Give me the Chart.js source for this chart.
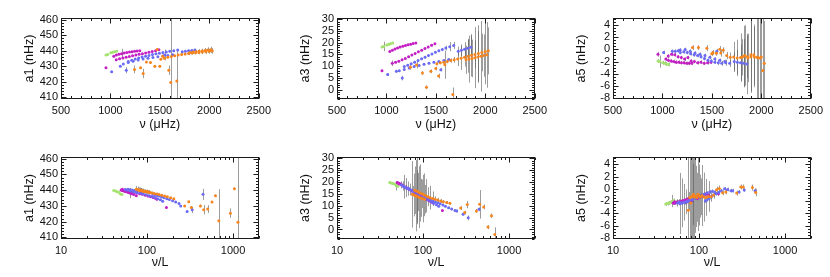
<!DOCTYPE html>
<html>
<head>
<meta charset="utf-8">
<script src="https://cdn.jsdelivr.net/npm/chart.js@4.4.0/dist/chart.umd.min.js"></script>
<style>
  body { margin: 0; background: #fff; width: 830px; height: 277px; position: relative; overflow: hidden; }
  canvas { position: absolute; }
</style>
</head>
<body>
<canvas id="p1"></canvas>
<canvas id="p2"></canvas>
<canvas id="p3"></canvas>
<canvas id="p4"></canvas>
<canvas id="p5"></canvas>
<canvas id="p6"></canvas>
<script>
// tick labels
const xTicksNu = [500, 1000, 1500, 2000, 2500];
const xTicksL = [10, 100, 1000];
const yTicksA1 = [410, 420, 430, 440, 450, 460];
const yTicksA3 = [0, 5, 10, 15, 20, 25, 30];
const yTicksA5 = [-8, -6, -4, -2, 0, 2, 4];

// green modes
const greenNu  = [955, 972, 1003, 1022, 1041, 1062];
const greenNuL = [51, 49, 47, 45, 43, 41];
const greenA1  = [437.2, 437.6, 438.7, 439.0, 439.4, 439.7];
const greenA3  = [18.2, 18.4, 19.0, 19.3, 19.5, 19.8];
const greenA5  = [-1.9, -2.0, -2.2, -2.3, -2.4, -2.5];
const greenE1  = [0.3, 0.3, 0.3, 0.3, 0.3, 0.3];
const greenE3  = [0.5, 2.0, 0.5, 0.5, 0.5, 0.5];
const greenE5  = [0.3, 1.0, 0.3, 0.3, 0.3, 0.3];

// magenta modes
const magNu  = [955, 1034, 1060, 1086, 1112, 1138, 1165, 1192, 1218, 1244, 1270, 1297,
                1059, 1092, 1125, 1158, 1191, 1224, 1257, 1290, 1323, 1356, 1389, 1422, 1456, 1490];
const magNuL = [168, 75, 70, 66, 63, 60.5, 58, 56, 54, 53, 51.3, 50,
                130, 125, 118, 110, 103, 95.5, 88, 82, 75.7, 70, 64.7, 59.8, 55.4, 51.8];
const magA1  = [429.0, 436.5, 437.2, 437.7, 438.1, 438.5, 438.9, 439.1, 439.4, 439.6, 439.8, 440.0,
                434.2, 434.8, 435.3, 435.8, 436.3, 436.8, 437.3, 437.7, 438.1, 438.6, 439.0, 439.5, 440.0, 440.6];
const magA3  = [8.0, 16.2, 16.8, 17.3, 17.7, 18.1, 18.5, 18.8, 19.1, 19.3, 19.6, 19.8,
                11.2, 11.6, 12.1, 12.7, 13.3, 14.0, 14.7, 15.4, 16.1, 16.8, 17.5, 18.2, 18.9, 19.5];
const magA5  = [-0.8, -1.6, -1.8, -1.9, -2.0, -2.1, -2.1, -2.2, -2.2, -2.3, -2.3, -2.3,
                -1.1, -0.8, -0.9, -1.2, -1.35, -1.6, -1.35, -1.9, -2.0, -2.2, -2.1, -2.3, -2.2, -2.1];
const magE1  = [0.4, 0.3, 0.3, 0.3, 3.2, 0.3, 0.3, 0.3, 0.3, 0.3, 0.3, 0.3,
                0.3, 0.3, 0.3, 0.3, 0.3, 0.3, 0.3, 0.3, 0.3, 0.3, 0.3, 0.3, 0.3, 0.3];
const magE3  = [0.5, 0.4, 0.4, 0.4, 0.4, 0.4, 0.4, 0.4, 0.4, 0.4, 0.4, 0.4,
                1.2, 0.4, 0.4, 0.4, 0.4, 0.4, 0.4, 0.4, 0.4, 0.4, 0.4, 0.4, 0.4, 0.4];
const magE5  = [0.4, 0.3, 0.3, 0.3, 0.3, 0.3, 0.3, 0.3, 0.3, 0.3, 0.3, 0.3,
                0.3, 0.3, 0.3, 0.3, 0.3, 0.3, 0.3, 0.3, 0.3, 0.3, 0.3, 0.3, 0.3, 0.3];

// blue modes
const blueNu  = [1012, 1100, 1160, 1550,
                 1130, 1180, 1230, 1280, 1330, 1380, 1430, 1480, 1530, 1580, 1630,
                 1180, 1215, 1250, 1285, 1320, 1355, 1390, 1425, 1460, 1495, 1530, 1565, 1600, 1640, 1680,
                 1726, 1758, 1790, 1822, 1854];
const blueNuL = [292, 246, 335, 447,
                 235, 215, 198, 182, 170, 158, 148, 139, 131, 124, 118,
                 152, 143, 133, 123, 114, 106, 98, 90, 84, 77, 72, 68, 63, 59, 56,
                 76, 71, 67, 63, 60];
const blueA1  = [426.5, 430.0, 427.5, 437.3,
                 431.5, 432.5, 433.3, 434.0, 434.6, 435.2, 435.7, 436.2, 436.6, 437.0, 437.4,
                 433.0, 433.9, 434.6, 435.3, 435.9, 436.5, 437.0, 437.5, 438.0, 438.4, 438.8, 439.2, 439.6, 440.0, 440.4,
                 439.4, 439.7, 440.0, 440.2, 440.5];
const blueA3  = [6.4, 7.8, 4.9, 8.5,
                 8.0, 8.6, 9.2, 9.8, 10.3, 10.8, 11.2, 11.6, 12.0, 12.4, 12.8,
                 9.8, 10.4, 11.0, 11.7, 12.4, 13.1, 13.8, 14.5, 15.2, 15.9, 16.5, 17.1, 17.7, 18.3, 18.8,
                 16.3, 16.8, 17.2, 17.6, 18.0];
const blueA5  = [-0.5, -0.3, -0.2, -0.3,
                 -0.3, -0.1, 0.0, -0.3, -0.6, -0.8, -1.0, -1.3, -1.6, -1.8, -2.0,
                 -0.5, -0.4, -0.5, -0.7, -0.9, -1.0, -1.2, -1.5, -1.8, -1.9, -2.1, -2.2, -2.3, -2.2, -2.3,
                 -2.0, -2.1, -2.2, -2.3, -2.4];
const blueE1  = [0.5, 0.5, 2.0, 3.5,
                 0.4, 0.4, 0.4, 0.4, 0.4, 0.4, 0.4, 0.4, 0.4, 0.4, 0.4,
                 0.4, 0.4, 0.4, 0.4, 0.4, 0.4, 0.4, 0.4, 0.4, 0.4, 0.4, 0.4, 0.4, 0.5, 0.5,
                 0.5, 0.6, 0.6, 0.7, 0.8];
const blueE3  = [0.5, 0.6, 1.0, 0.8,
                 0.4, 0.4, 0.4, 0.4, 0.4, 0.4, 0.4, 0.4, 0.4, 0.4, 0.4,
                 0.4, 0.4, 0.4, 0.4, 0.4, 0.4, 0.4, 0.4, 0.4, 0.4, 0.5, 0.6, 1.0, 2.0, 1.5,
                 2.0, 2.5, 3.0, 4.0, 5.0];
const blueE5  = [0.3, 0.3, 0.3, 0.4,
                 0.3, 0.3, 0.3, 0.3, 0.3, 0.3, 0.3, 0.3, 0.3, 0.3, 0.3,
                 0.3, 0.3, 0.3, 0.3, 0.3, 0.3, 0.3, 0.3, 0.3, 0.3, 0.3, 0.4, 0.4, 0.5, 0.6,
                 1.5, 2.0, 3.0, 4.0, 5.0];

// orange modes
const orangeNu  = [1243, 1304, 1331, 1364, 1405, 1449, 1472, 1499, 1528, 1590, 1610, 1671,
                   1510, 1545, 1580, 1615, 1650, 1685, 1720, 1755, 1790, 1825, 1860, 1895, 1930, 1965, 2000, 2030,
                   1805, 1835, 1865, 1895, 1925, 1955, 1985, 2015];
const orangeNuL = [507, 327, 931, 305, 569, 417, 1036, 274, 624, 455, 1138, 682,
                   205, 188, 172, 160, 148, 138, 129, 121, 114, 108, 102, 97, 92, 88, 84, 80,
                   104, 99, 94, 90, 86, 82, 78, 75];
const orangeA1  = [428.0, 429.0, 425.4, 432.7, 432.5, 430.0, 440.8, 430.0, 436.5, 427.5, 419.6, 420.6,
                   434.5, 435.2, 435.8, 436.3, 436.8, 437.2, 437.6, 437.9, 438.2, 438.5, 438.7, 438.9, 439.1, 439.4, 439.7, 439.9,
                   438.9, 439.1, 439.3, 439.6, 439.8, 440.1, 440.4, 440.6];
const orangeA3  = [9.5, 10.5, null, 7.1, 1.0, 7.8, null, 9.0, 5.8, 10.6, null, -2.1,
                   11.0, 11.4, 11.7, 12.0, 12.4, 12.7, 13.0, 13.4, 13.8, 14.2, 14.6, 15.0, 15.4, 15.8, 16.2, 16.5,
                   12.7, 13.0, 13.3, 13.6, 13.9, 14.2, 14.5, 14.8];
const orangeA5  = [null, 0.3, null, 0.3, null, 0.2, null, -0.7, null, -0.6, null, null,
                   -0.5, -0.65, 0.05, -0.15, -1.0, -1.3, -1.25, -1.4, -1.35, -1.1, -1.2, -0.9, -1.25, -1.35, -1.25, -2.3,
                   -1.3, -1.0, -1.4, -1.2, -0.9, -1.3, -1.4, -3.5];
const orangeE1  = [2.5, 0.6, 3.0, 0.6, 0.6, 0.8, 0.8, 0.6, 0.8, 3.0, 45, 20,
                   0.4, 0.4, 0.4, 0.5, 0.5, 0.6, 0.7, 0.8, 0.9, 1.0, 1.1, 1.2, 1.3, 1.5, 1.6, 1.8,
                   1.0, 1.2, 1.2, 1.4, 1.5, 1.6, 1.8, 2.0];
const orangeE3  = [1.0, 1.5, 0, 0.8, 0.8, 0.8, 0, 0.8, 1.0, 6.0, 0, 3.0,
                   0.6, 0.6, 0.7, 0.8, 0.9, 1.2, 3, 5, 4, 7, 9, 6, 12, 8, 14, 10,
                   6, 10, 8, 13, 11, 15, 9, 14];
const orangeE5  = [0, 0.4, 0, 0.4, 0, 0.5, 0, 0.4, 0, 0.6, 0, 0,
                   0.4, 0.4, 0.5, 0.5, 0.6, 0.8, 2.5, 3, 4, 5, 3.5, 6, 5, 8, 10, 7,
                   3, 5, 4, 6, 5, 7, 9, 11];

// first entry is drawn on top
const groups = [
  { color: '#f7851e', nu: orangeNu, nuL: orangeNuL, a1: orangeA1, a3: orangeA3, a5: orangeA5, e1: orangeE1, e3: orangeE3, e5: orangeE5 },
  { color: '#6b6bf5', nu: blueNu, nuL: blueNuL, a1: blueA1, a3: blueA3, a5: blueA5, e1: blueE1, e3: blueE3, e5: blueE5 },
  { color: '#c41fc4', nu: magNu, nuL: magNuL, a1: magA1, a3: magA3, a5: magA5, e1: magE1, e3: magE3, e5: magE5 },
  { color: '#a5e36e', nu: greenNu, nuL: greenNuL, a1: greenA1, a3: greenA3, a5: greenA5, e1: greenE1, e3: greenE3, e5: greenE5 }
];

const yAxes = {
  a1: { min: 409, max: 461, ticks: yTicksA1, minor: 5, title: 'a1 (nHz)', err: 'e1' },
  a3: { min: -4, max: 30.5, ticks: yTicksA3, minor: 5, title: 'a3 (nHz)', err: 'e3' },
  a5: { min: -8.2, max: 5.2, ticks: yTicksA5, minor: 4, title: 'a5 (nHz)', err: 'e5' }
};

const panels = [
  { id: 'p1', col: 0, row: 0, x: 'nu', y: 'a1' },
  { id: 'p2', col: 1, row: 0, x: 'nu', y: 'a3' },
  { id: 'p3', col: 2, row: 0, x: 'nu', y: 'a5' },
  { id: 'p4', col: 0, row: 1, x: 'nuL', y: 'a1' },
  { id: 'p5', col: 1, row: 1, x: 'nuL', y: 'a3' },
  { id: 'p6', col: 2, row: 1, x: 'nuL', y: 'a5' }
];

const tickFont = { family: 'Liberation Sans, Arial, sans-serif', size: 11 };
const titleFont = { family: 'Liberation Sans, Arial, sans-serif', size: 12.5 };

function tickList(scale, div) {
  const out = [];
  if (scale.type === 'logarithmic') {
    for (let d = Math.pow(10, Math.floor(Math.log10(scale.min))); d <= scale.max; d *= 10) {
      for (let k = 1; k < 10; k++) {
        const v = k * d;
        if (v >= scale.min && v <= scale.max) out.push([v, k === 1]);
      }
    }
  } else {
    const vals = scale.ticks.map(t => t.value);
    const step = (vals[1] - vals[0]) / div;
    const start = Math.ceil((scale.min - 1e-9) / step) * step;
    for (let v = start; v <= scale.max + 1e-9; v += step) {
      out.push([v, vals.some(t => Math.abs(t - v) < step / 10)]);
    }
  }
  return out;
}

const framePlugin = {
  id: 'frame',
  beforeDatasetsDraw(chart) {
    const { ctx, chartArea: a, scales: { x, y } } = chart;
    ctx.save();
    ctx.beginPath();
    ctx.rect(a.left, a.top, a.right - a.left, a.bottom - a.top);
    ctx.clip();
    ctx.strokeStyle = 'rgba(90,90,90,0.6)';
    ctx.lineWidth = 1;
    chart.data.datasets.forEach(ds => {
      ds.data.forEach((p, i) => {
        const e = ds.err[i];
        if (!e) return;
        const px = Math.round(x.getPixelForValue(p.x)) + 0.5;
        ctx.beginPath();
        ctx.moveTo(px, y.getPixelForValue(p.y - e));
        ctx.lineTo(px, y.getPixelForValue(p.y + e));
        ctx.stroke();
      });
    });
    ctx.restore();
  },
  afterDraw(chart) {
    const { ctx, chartArea: a, scales: { x, y } } = chart;
    const L = Math.round(a.left) + 0.5, R = Math.round(a.right) - 0.5;
    const T = Math.round(a.top) + 0.5, B = Math.round(a.bottom) - 0.5;
    ctx.save();
    ctx.strokeStyle = '#1a1a1a';
    ctx.lineWidth = 1;
    ctx.strokeRect(L, T, R - L, B - T);
    ctx.beginPath();
    tickList(x, x.options.minorDiv).forEach(([v, major]) => {
      const px = Math.round(x.getPixelForValue(v)) + 0.5;
      const len = major ? 5 : 2.5;
      ctx.moveTo(px, B); ctx.lineTo(px, B - len);
      ctx.moveTo(px, T); ctx.lineTo(px, T + len);
    });
    tickList(y, y.options.minorDiv).forEach(([v, major]) => {
      const py = Math.round(y.getPixelForValue(v)) + 0.5;
      const len = major ? 5 : 2.5;
      ctx.moveTo(L, py); ctx.lineTo(L + len, py);
      ctx.moveTo(R, py); ctx.lineTo(R - len, py);
    });
    ctx.stroke();
    ctx.restore();
  }
};

panels.forEach(pn => {
  const canvas = document.getElementById(pn.id);
  const H = pn.row === 0 ? 139 : 138;
  canvas.width = 276;
  canvas.height = H;
  canvas.style.left = (pn.col * 276) + 'px';
  canvas.style.top = (pn.row * 139) + 'px';
  const ya = yAxes[pn.y];
  const isLog = pn.x === 'nuL';

  const datasets = groups.map(g => {
    const data = [], err = [];
    g[pn.x].forEach((xv, i) => {
      const yv = g[pn.y][i];
      if (yv === null || yv === undefined) return;
      data.push({ x: xv, y: yv });
      err.push(g[ya.err][i]);
    });
    return {
      data, err,
      backgroundColor: g.color,
      borderColor: g.color,
      pointRadius: 1.5,
      pointBorderWidth: 0,
      pointHoverRadius: 1.5
    };
  });

  new Chart(canvas, {
    type: 'scatter',
    data: { datasets },
    options: {
      responsive: false,
      maintainAspectRatio: false,
      animation: false,
      devicePixelRatio: 1,
      layout: { padding: { left: 0, right: 17, top: 18, bottom: 0 } },
      plugins: { legend: { display: false }, tooltip: { enabled: false } },
      scales: {
        x: {
          type: isLog ? 'logarithmic' : 'linear',
          min: isLog ? 10 : 500,
          max: isLog ? 2000 : 2500,
          minorDiv: 5,
          afterBuildTicks: s => { s.ticks = (isLog ? xTicksL : xTicksNu).map(v => ({ value: v })); },
          afterFit: s => { s.height = pn.row === 0 ? 40 : 38; },
          grid: { display: false, drawTicks: false },
          border: { display: false },
          ticks: { autoSkip: false, maxRotation: 0, padding: 5, color: '#111', font: tickFont, callback: v => String(v) },
          title: {
            display: true, text: isLog ? 'ν/L' : 'ν (μHz)', color: '#111', font: titleFont,
            padding: { top: 0, bottom: 6.5 }
          }
        },
        y: {
          type: 'linear',
          min: ya.min,
          max: ya.max,
          minorDiv: ya.minor,
          afterBuildTicks: s => { s.ticks = ya.ticks.map(v => ({ value: v })); },
          afterFit: s => { s.width = 61; },
          grid: { display: false, drawTicks: false },
          border: { display: false },
          ticks: { autoSkip: false, padding: 3, color: '#111', font: tickFont, callback: v => String(v) },
          title: {
            display: true, text: ya.title, color: '#111', font: titleFont,
            padding: { top: 22.5, bottom: 0 }
          }
        }
      }
    },
    plugins: [framePlugin]
  });
});
</script>
</body>
</html>
